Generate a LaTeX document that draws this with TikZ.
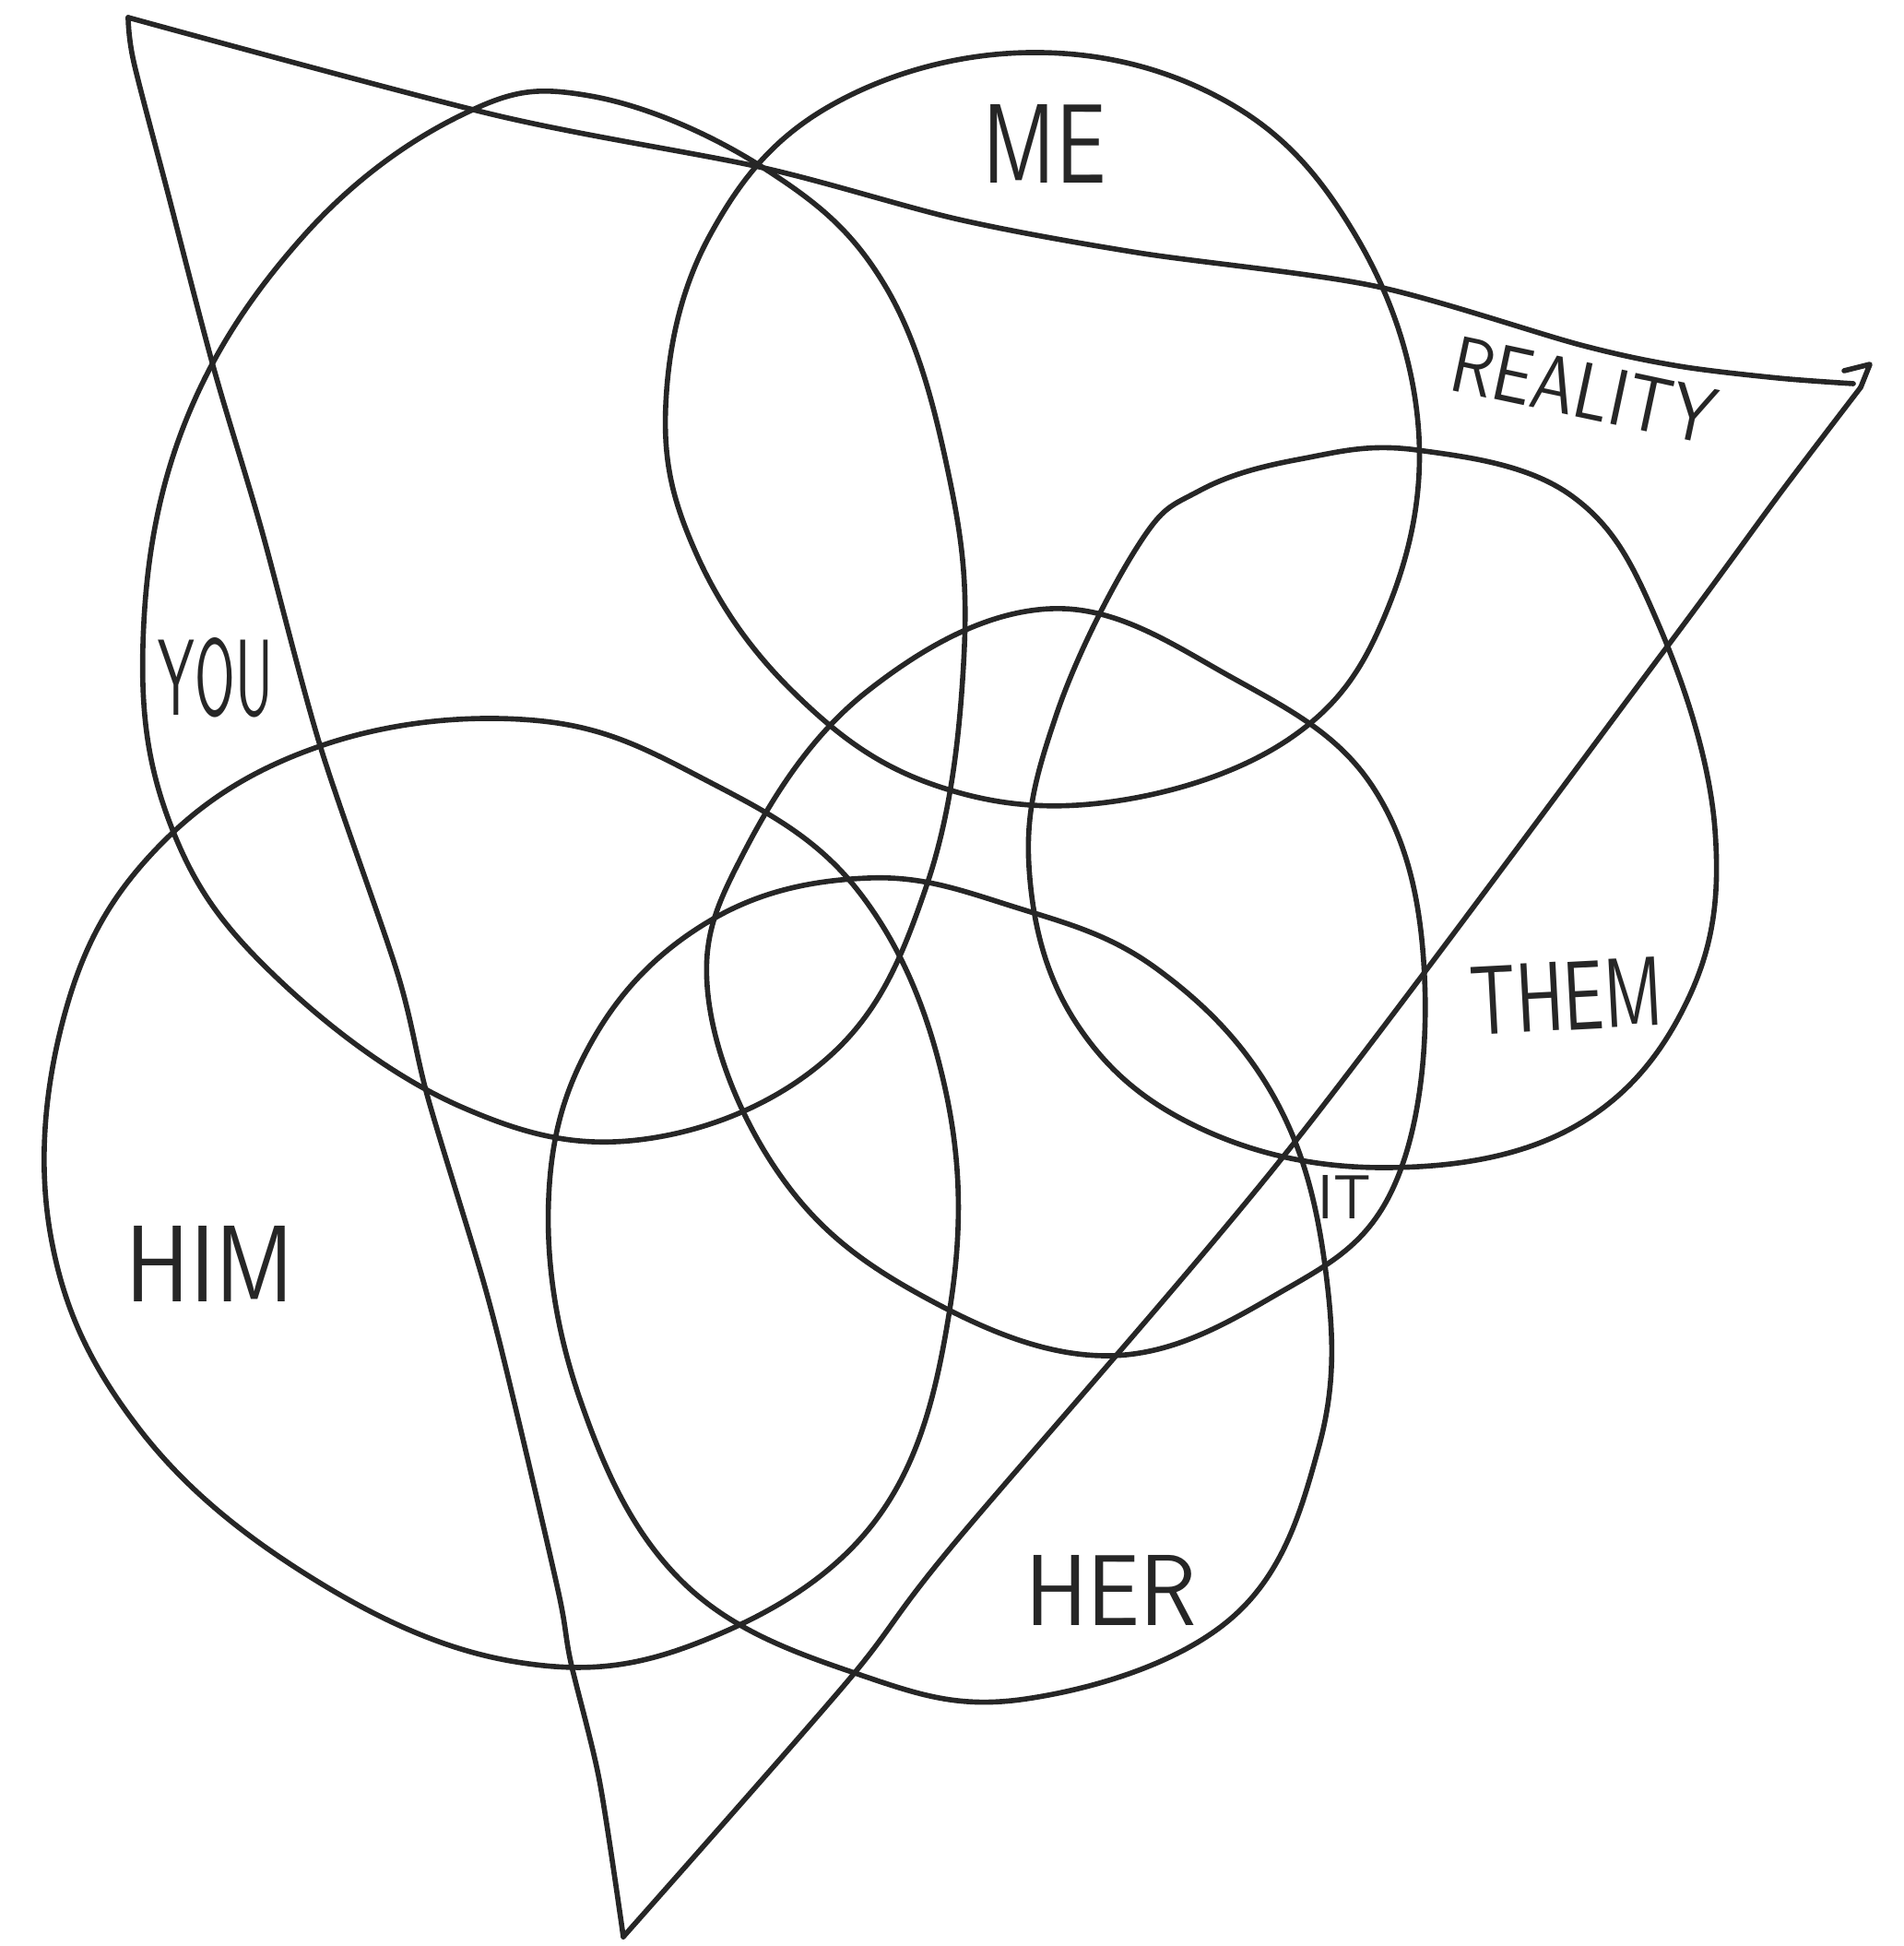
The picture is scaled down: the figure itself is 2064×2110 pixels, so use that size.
\documentclass[tikz,border=0pt]{standalone}
\usepackage{tikz}
\tikzset{
  pen/.style     = {draw=black!85, line width=1.6pt, line join=round, line cap=round},
  handlbl/.style = {inner sep=0pt, text=black!85, font=\sffamily},
}
\begin{document}
\begin{tikzpicture}[x=0.01cm, y=-0.01cm]
  \path[use as bounding box, fill=white] (0,0) rectangle (2064,2110);

  % Reality triangle
  \draw[pen] plot[smooth] coordinates {(139,19) (538,125) (828,182) (1040,238)
    (1234,274) (1490,310) (1714,374) (1821,397) (1929,410) (2010,416)};
  \draw[pen] plot[smooth] coordinates {(139,19) (145,67) (182,209) (232,400)
    (283,572) (347,808) (431,1055) (464,1190) (525,1392) (559,1526) (606,1728)
    (619,1802) (650,1930) (676,2100)};
  \draw[pen] (2000,402) -- (2028,395) -- (2018,420);
  \draw[pen] plot[smooth] coordinates {(2018,420) (1929,537) (1800,712)
    (1395,1250) (1032,1677) (920,1822) (676,2100)};

  % ME
  \draw[pen] plot[smooth cycle, tension=0.65] coordinates {(1117,57) (1330,110)
    (1470,255) (1538,460) (1505,660) (1400,800) (1200,870) (1010,850) (860,750)
    (755,600) (722,440) (770,255) (900,115)};

  % YOU
  \draw[pen] plot[smooth cycle, tension=0.65] coordinates {(640,104) (828,182)
    (960,310) (1030,520) (1045,720) (1005,960) (900,1145) (700,1235) (500,1200)
    (300,1060) (188,902) (155,700) (200,460) (330,255) (500,125)};

  % HIM
  \draw[pen] plot[smooth cycle, tension=0.65] coordinates {(579,781) (760,843)
    (930,965) (1025,1180) (1030,1420) (950,1648) (760,1780) (560,1802)
    (340,1712) (150,1548) (55,1340) (70,1100) (170,920) (350,808)};

  % middle circle
  \draw[pen] plot[smooth cycle, tension=0.65] coordinates {(1140,660) (1335,734)
    (1490,855) (1545,1060) (1510,1290) (1382,1405) (1200,1470) (1000,1405)
    (848,1277) (768,1080) (808,922) (940,750)};

  % THEM
  \draw[pen] plot[smooth cycle, tension=0.65] coordinates {(1409,498) (1537,488)
    (1705,538) (1800,680) (1860,900) (1830,1085) (1705,1223) (1500,1266)
    (1301,1223) (1167,1109) (1116,940) (1146,774) (1234,592) (1301,532)};

  % HER
  \draw[pen] plot[smooth cycle, tension=0.65] coordinates {(942,952) (1099,983)
    (1254,1050) (1382,1190) (1438,1380) (1430,1570) (1335,1755) (1113,1842)
    (930,1815) (740,1715) (630,1520) (595,1300) (646,1122) (774,996)};

  % labels
  \node[handlbl]             (me)      at (1133,156)  {\resizebox{1.34cm}{0.85cm}{ME}};
  \node[handlbl, rotate=-12] (reality) at (1718,423)  {\resizebox{2.90cm}{0.60cm}{REALITY}};
  \node[handlbl]             (you)     at (234,735)   {\resizebox{1.24cm}{0.84cm}{YOU}};
  \node[handlbl]             (him)     at (228,1370)  {\resizebox{1.82cm}{0.82cm}{HIM}};
  \node[handlbl, rotate=3]   (them)    at (1699,1080) {\resizebox{2.09cm}{0.74cm}{THEM}};
  \node[handlbl]             (her)     at (1205,1724) {\resizebox{1.85cm}{0.76cm}{HER}};
  \node[handlbl]             (it)      at (1458,1298) {\resizebox{0.57cm}{0.47cm}{IT}};
\end{tikzpicture}
\end{document}
